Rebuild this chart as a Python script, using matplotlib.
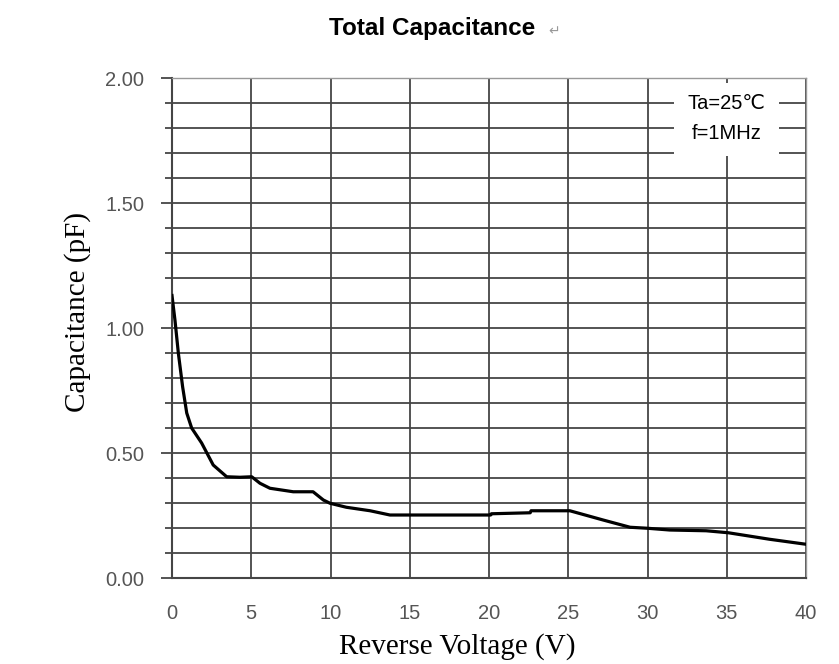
import matplotlib
matplotlib.use('Agg')
import matplotlib.pyplot as plt
from matplotlib.patches import Rectangle
from matplotlib.ticker import MultipleLocator

# reverse voltage (V) and total capacitance (pF)
volts = [0, 0.19, 0.4, 0.67, 0.93, 1.24, 1.87, 2.6, 3.45, 4.29, 5.03, 5.55, 6.18,
         7.65, 8.9, 9.55, 9.97, 11.0, 12.5, 13.75, 20.1, 20.15, 22.6, 22.65, 25.1,
         27.2, 28.9, 30.0, 31.4, 33.7, 35.1, 37.7, 40.0]
cap = [1.13, 1.03, 0.90, 0.765, 0.66, 0.60, 0.54, 0.452, 0.405, 0.403, 0.405, 0.379, 0.359,
       0.345, 0.345, 0.312, 0.299, 0.283, 0.269, 0.252, 0.252, 0.257, 0.261, 0.269, 0.269,
       0.232, 0.203, 0.199, 0.192, 0.189, 0.181, 0.155, 0.135]

x_ticks = [0, 5, 10, 15, 20, 25, 30, 35, 40]
y_ticks = [0.0, 0.5, 1.0, 1.5, 2.0]
notes = ['Ta=25\u2103', 'f=1MHz']

grid_col = '#454545'
label_col = '#555555'

fig = plt.figure(figsize=(8.39, 6.64), dpi=100)
ax = fig.add_axes([0.205, 0.1295, 0.7557, 0.753])

ax.plot(volts, cap, color='black', linewidth=2.3, zorder=5)

ax.set_xlim(0, 40)
ax.set_ylim(0, 2.0)
ax.set_xticks(x_ticks)
ax.set_yticks(y_ticks)
ax.set_yticklabels(['%.2f' % v for v in y_ticks])
ax.yaxis.set_minor_locator(MultipleLocator(0.1))

ax.grid(True, which='major', axis='x', color=grid_col, linewidth=1.3, zorder=1)
ax.grid(True, which='both', axis='y', color=grid_col, linewidth=1.3, zorder=1)
ax.set_axisbelow(True)

ax.tick_params(axis='x', which='both', length=0, pad=19, labelsize=14.5, labelcolor=label_col)
ax.tick_params(axis='y', which='major', length=8, width=1.3, color=grid_col, pad=12,
               labelsize=14.5, labelcolor=label_col)
ax.tick_params(axis='y', which='minor', length=5, width=1.3, color=grid_col)
for lab in ax.get_xticklabels() + ax.get_yticklabels():
    lab.set_family('Liberation Sans')

for side in ['left', 'bottom']:
    ax.spines[side].set_color(grid_col)
    ax.spines[side].set_linewidth(1.5)
for side in ['top', 'right']:
    ax.spines[side].set_color('#999999')
    ax.spines[side].set_linewidth(1.0)

ax.set_xlabel('Reverse Voltage (V)', family='Liberation Serif', fontsize=21, va='center')
ax.xaxis.set_label_coords(0.4495, -0.138)
ax.set_ylabel('Capacitance (pF)', family='Liberation Serif', fontsize=21, va='center')
ax.yaxis.set_label_coords(-0.149, 0.532)

# white box holding the test conditions
ax.add_patch(Rectangle((31.65, 1.69), 6.65, 0.29, transform=ax.transData,
                       facecolor='white', edgecolor='none', zorder=3))
ax.text(35.0, 1.90, notes[0], ha='center', va='center', fontsize=14.5,
        family=['Liberation Sans', 'DejaVu Sans'], zorder=4)
ax.text(35.0, 1.78, notes[1], ha='center', va='center', fontsize=14.5,
        family='Liberation Sans', zorder=4)

fig.text(0.3925, 0.957, 'Total Capacitance', ha='left', va='center',
         fontsize=17.5, fontweight='bold', family='Liberation Sans')
fig.text(0.661, 0.952, '\u21b5', ha='center', va='center', fontsize=10, color='#999999')

fig.savefig('out.png', dpi=100)
